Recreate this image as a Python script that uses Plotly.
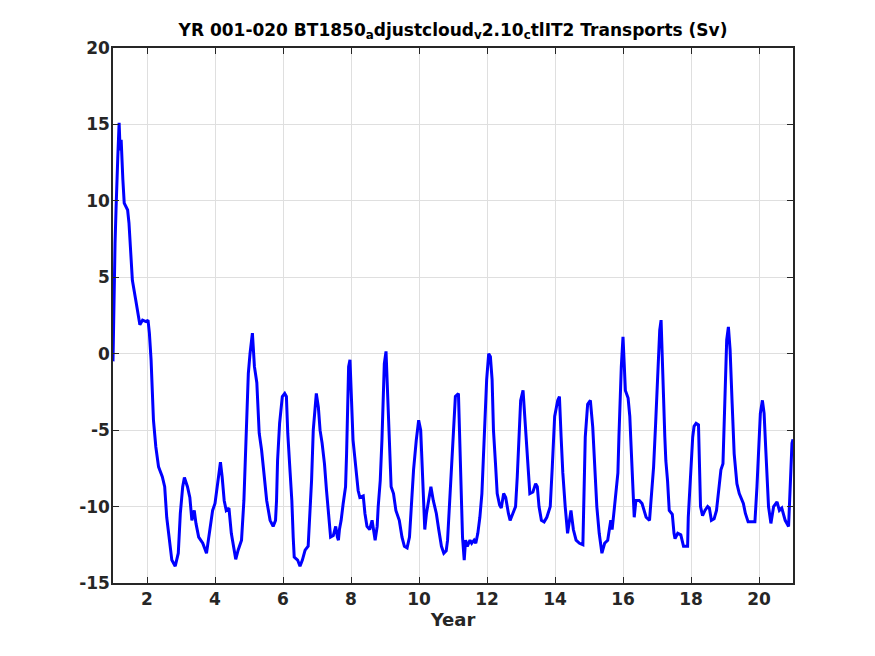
import plotly.graph_objects as go

# transport time series (years, Sv)
year = [1.0, 1.03, 1.06, 1.09, 1.11, 1.14, 1.18, 1.21, 1.24, 1.25, 1.27, 1.29, 1.33,
        1.43, 1.47, 1.52, 1.57, 1.67, 1.75, 1.79, 1.87, 1.97, 2.03, 2.07, 2.12, 2.15,
        2.19, 2.26, 2.34, 2.45, 2.52, 2.58, 2.65, 2.73, 2.83, 2.92, 2.98, 3.05, 3.1,
        3.19, 3.26, 3.32, 3.39, 3.44, 3.52, 3.64, 3.75, 3.83, 3.93, 4.0, 4.08, 4.16,
        4.21, 4.27, 4.33, 4.41, 4.48, 4.55, 4.61, 4.68, 4.78, 4.85, 4.91, 4.98, 5.03,
        5.1, 5.16, 5.23, 5.3, 5.37, 5.45, 5.52, 5.62, 5.71, 5.78, 5.81, 5.84, 5.9,
        5.98, 6.05, 6.1, 6.14, 6.21, 6.26, 6.3, 6.33, 6.43, 6.5, 6.57, 6.65, 6.74,
        6.78, 6.84, 6.89, 6.98, 7.04, 7.09, 7.15, 7.22, 7.28, 7.35, 7.4, 7.48, 7.55,
        7.6, 7.63, 7.66, 7.71, 7.77, 7.84, 7.87, 7.9, 7.93, 7.97, 8.02, 8.06, 8.11,
        8.16, 8.21, 8.26, 8.36, 8.41, 8.47, 8.55, 8.62, 8.71, 8.77, 8.8, 8.86, 8.91,
        8.94, 8.98, 9.03, 9.06, 9.1, 9.14, 9.18, 9.25, 9.32, 9.42, 9.5, 9.57, 9.65,
        9.72, 9.77, 9.84, 9.92, 9.99, 10.05, 10.09, 10.13, 10.17, 10.22, 10.29, 10.35,
        10.42, 10.51, 10.58, 10.66, 10.73, 10.8, 10.84, 10.87, 10.95, 11.0, 11.07,
        11.16, 11.2, 11.25, 11.28, 11.33, 11.37, 11.42, 11.5, 11.55, 11.62, 11.67,
        11.73, 11.79, 11.85, 11.89, 11.95, 11.99, 12.05, 12.1, 12.15, 12.19, 12.25,
        12.3, 12.37, 12.42, 12.49, 12.55, 12.63, 12.68, 12.76, 12.84, 12.89, 12.94,
        12.99, 13.06, 13.13, 13.2, 13.26, 13.35, 13.43, 13.48, 13.53, 13.6, 13.68,
        13.76, 13.86, 13.92, 13.99, 14.08, 14.13, 14.18, 14.23, 14.3, 14.37, 14.47,
        14.54, 14.62, 14.72, 14.82, 14.85, 14.89, 14.96, 15.04, 15.11, 15.17, 15.23,
        15.3, 15.38, 15.46, 15.55, 15.64, 15.68, 15.73, 15.78, 15.85, 15.88, 15.91,
        15.95, 16.0, 16.05, 16.07, 16.15, 16.2, 16.23, 16.26, 16.29, 16.33, 16.38,
        16.48, 16.56, 16.68, 16.78, 16.83, 16.9, 16.96, 17.01, 17.08, 17.12, 17.15,
        17.19, 17.21, 17.23, 17.26, 17.31, 17.36, 17.45, 17.5, 17.53, 17.61, 17.7,
        17.78, 17.9, 17.92, 17.95, 17.99, 18.02, 18.05, 18.09, 18.15, 18.22, 18.24,
        18.26, 18.28, 18.34, 18.41, 18.49, 18.54, 18.6, 18.68, 18.75, 18.82, 18.88,
        18.94, 18.97, 19.01, 19.05, 19.1, 19.15, 19.21, 19.27, 19.35, 19.42, 19.54,
        19.6, 19.68, 19.88, 19.94, 19.99, 20.04, 20.1, 20.15, 20.2, 20.25, 20.28,
        20.35, 20.43, 20.53, 20.6, 20.67, 20.77, 20.87, 20.92, 20.97, 21.0]

transport = [-0.5, 4.0, 7.2, 9.5, 11.4, 12.8, 15.1, 13.3, 14.0, 13.3, 12.2, 11.4, 9.85,
             9.4, 8.55, 7.0, 4.8, 3.5, 2.2, 1.9, 2.2, 2.1, 2.2, 1.35, -0.4, -1.9,
             -4.35, -6.1, -7.4, -8.05, -8.7, -10.7, -12.2, -13.5, -13.9, -13.05, -10.45,
             -8.7, -8.1, -8.7, -9.4, -10.9, -10.25, -11.1, -12.0, -12.4, -13.05, -11.75,
             -10.25, -9.8, -8.5, -7.1, -8.05, -9.6, -10.25, -10.1, -11.75, -12.85,
             -13.45, -12.85, -12.2, -9.6, -5.2, -1.3, 0.0, 1.35, -0.85, -1.9, -5.2,
             -6.3, -8.05, -9.6, -10.9, -11.3, -10.9, -9.6, -7.0, -4.55, -2.8, -2.6,
             -2.8, -5.2, -7.8, -9.6, -12.0, -13.3, -13.5, -13.9, -13.5, -12.85, -12.6,
             -10.9, -8.3, -5.0, -2.6, -3.5, -5.0, -5.85, -7.2, -8.95, -10.7, -12.0,
             -11.9, -11.3, -12.0, -12.2, -11.5, -10.9, -9.8, -8.7, -6.55, -3.05, -0.85,
             -0.4, -3.05, -5.65, -6.75, -7.8, -8.95, -9.4, -9.3, -10.45, -11.3, -11.5,
             -10.9, -12.2, -11.3, -10.0, -8.3, -5.65, -3.9, -0.65, 0.15, -1.7, -5.0,
             -7.4, -8.7, -9.15, -10.25, -10.9, -12.0, -12.6, -12.7, -12.0, -10.0, -7.6,
             -5.65, -4.35, -5.0, -7.0, -8.5, -11.5, -10.45, -9.6, -8.7, -9.6, -10.45,
             -11.5, -12.6, -13.05, -12.9, -12.2, -10.9, -7.2, -5.45, -2.8, -2.6, -5.85,
             -10.9, -12.0, -13.5, -12.2, -12.6, -12.2, -12.4, -12.2, -12.4, -11.75,
             -10.7, -9.15, -7.0, -3.7, -1.7, 0.0, -0.2, -1.7, -5.0, -7.2, -9.15, -9.9,
             -10.1, -9.15, -9.4, -10.45, -10.9, -10.45, -10.0, -8.05, -5.0, -3.05, -2.4,
             -4.55, -7.2, -9.15, -9.05, -8.5, -8.7, -10.0, -10.9, -11.0, -10.7, -10.0,
             -7.4, -4.1, -3.05, -2.8, -5.45, -7.8, -10.0, -11.75, -10.25, -11.5, -12.2,
             -12.4, -12.5, -10.0, -5.45, -3.3, -3.05, -4.8, -7.8, -10.0, -11.75, -13.05,
             -12.4, -12.2, -10.9, -11.5, -10.45, -9.15, -7.8, -5.45, -3.05, -0.85, 1.1,
             -0.85, -2.4, -2.9, -4.1, -5.65, -7.4, -8.7, -10.7, -9.6, -9.6, -9.8, -10.7,
             -10.9, -9.6, -7.4, -4.55, -1.5, 1.55, 2.2, -0.4, -2.4, -3.9, -5.45, -7.0,
             -8.3, -10.25, -10.5, -11.75, -12.1, -11.75, -11.85, -12.6, -12.6, -10.7,
             -9.4, -7.8, -6.3, -5.45, -4.75, -4.55, -4.65, -6.3, -8.3, -10.0, -10.6,
             -10.25, -10.0, -10.1, -10.9, -10.8, -10.25, -8.95, -7.6, -7.2, -4.75, -1.3,
             0.9, 1.75, 0.25, -3.25, -6.55, -8.5, -9.15, -9.8, -10.45, -11.0, -11.0,
             -8.7, -6.1, -3.9, -3.05, -3.9, -6.3, -8.7, -10.0, -11.1, -10.0, -9.7,
             -10.25, -10.1, -10.9, -11.3, -8.05, -5.85, -5.6]

x_ticks = [2, 4, 6, 8, 10, 12, 14, 16, 18, 20]
y_ticks = [-15, -10, -5, 0, 5, 10, 15, 20]
y_labels = ["-15", "-10", "-5", "0", "5", "10", "15", "20"]

fig = go.Figure()
fig.add_trace(go.Scatter(x=year, y=transport, mode="lines",
                         line=dict(color="#0000ff", width=3),
                         showlegend=False))

axis_style = dict(showgrid=True, gridcolor="#dfdfdf", gridwidth=1,
                  showline=True, linecolor="#262626", linewidth=1.5,
                  mirror="ticks", ticks="inside", ticklen=6, tickwidth=1,
                  tickcolor="#262626", zeroline=False,
                  tickfont=dict(family="DejaVu Sans", size=17, color="#262626",
                                weight="bold"))

fig.update_xaxes(range=[1, 21], tickvals=x_ticks,
                 title=dict(text="Year", standoff=0,
                            font=dict(family="DejaVu Sans", size=18, color="#262626",
                                      weight="bold")),
                 **axis_style)
fig.update_yaxes(range=[-15, 20], tickvals=y_ticks, ticktext=y_labels,
                 ticklabelstandoff=-2, **axis_style)

# page body adds an 8px offset, so margins are shifted to compensate
fig.update_layout(
    width=875, height=656,
    margin=dict(l=105, r=90, t=40, b=81),
    plot_bgcolor="white", paper_bgcolor="white",
    title=dict(text="YR 001-020 BT1850<sub>a</sub>djustcloud<sub>v</sub>2.10<sub>c</sub>tlIT2 Transports (Sv)",
               x=0.5, xref="paper", xanchor="center", y=0.967, yanchor="middle",
               font=dict(family="DejaVu Sans", size=17, color="black", weight="bold")),
)

fig.write_html("out.html")
